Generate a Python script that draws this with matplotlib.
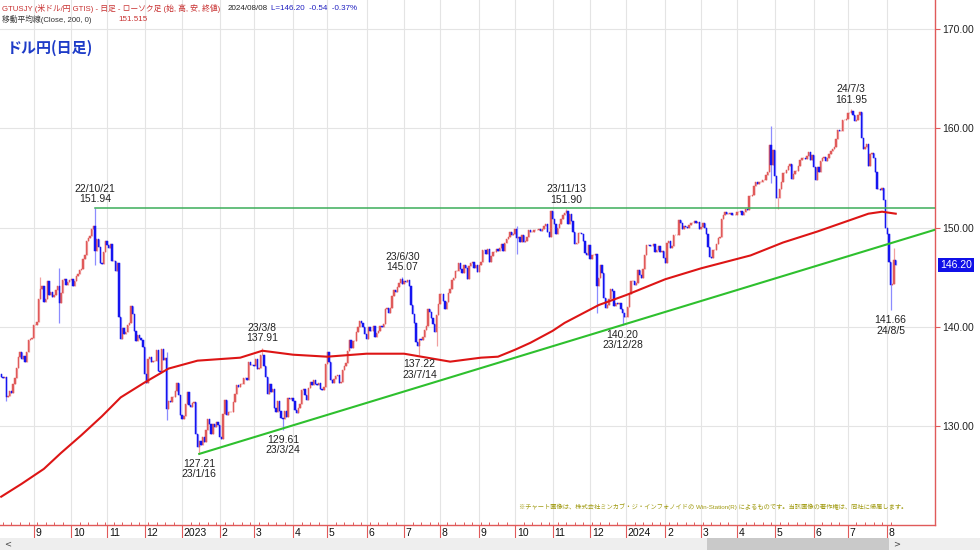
import numpy as np
import pandas as pd
import matplotlib
matplotlib.use("Agg")
import matplotlib.pyplot as plt
import matplotlib.transforms as mtransforms
from matplotlib.patches import Rectangle

# ------------------------------------------------------------------
# data (USD/JPY daily)
# ------------------------------------------------------------------
start_date = "2022-08-05"
end_date = "2024-08-08"
first_open = 135.3

closes = [
    # 2022-08
    135.0, 134.9, 135.0, 132.9, 133.0, 133.5, 133.3, 134.2, 134.9, 135.9, 137.0, 137.5, 136.8, 137.1, 136.5, 137.5, 138.7, 138.8, 138.9,
    # 2022-09
    140.2, 140.2, 140.5, 142.8, 143.8, 144.1, 142.5, 142.8, 144.6, 143.2, 143.5, 143.0, 143.2, 143.7, 144.1, 142.4, 143.4, 144.7, 144.8, 144.2, 144.5, 144.7,
    # 2022-10
    144.8, 144.1, 144.6, 145.1, 145.3, 145.7, 145.8, 146.8, 147.2, 148.7, 149.0, 149.2, 149.9, 150.2, 147.6, 148.9, 148.0, 146.4, 146.3, 147.5, 148.7,
    # 2022-11
    148.2, 147.9, 148.3, 146.6, 146.6, 145.6, 146.4, 141.0, 138.8, 139.9, 139.3, 139.5, 140.2, 140.4, 142.1, 141.3, 139.6, 138.6, 139.2, 138.9, 138.7, 138.0,
    # 2022-12
    135.3, 134.3, 136.8, 137.0, 136.5, 136.6, 136.6, 137.7, 135.6, 135.5, 137.8, 136.7, 136.9, 131.7, 132.5, 132.4, 132.9, 132.9, 133.5, 134.4, 133.1, 131.1,
    # 2023-01
    130.7, 131.0, 132.2, 133.4, 132.1, 131.9, 132.3, 132.4, 129.2, 127.9, 128.5, 128.1, 128.9, 128.4, 129.6, 130.7, 130.2, 129.2, 130.2, 129.9, 130.4, 130.1,
    # 2023-02
    128.9, 128.7, 131.2, 132.6, 131.1, 131.4, 131.4, 131.4, 132.4, 133.2, 134.1, 133.9, 134.2, 134.2, 134.9, 134.9, 134.7, 136.5, 136.2, 136.2,
    # 2023-03
    136.1, 136.8, 135.8, 135.9, 137.2, 137.2, 136.1, 135.0, 133.2, 134.2, 133.4, 133.7, 131.8, 131.4, 132.5, 131.5, 130.8, 130.7, 131.5, 130.9, 132.8, 132.7, 132.8,
    # 2023-04
    132.5, 131.6, 131.3, 131.8, 132.2, 133.6, 133.7, 133.1, 132.6, 133.8, 134.5, 134.1, 134.7, 134.2, 134.1, 134.3, 133.7, 133.6, 133.9, 136.3,
    # 2023-05
    137.5, 136.5, 134.7, 134.3, 134.8, 135.1, 135.2, 134.4, 134.5, 135.7, 136.1, 136.4, 137.6, 138.7, 137.9, 138.6, 138.6, 139.5, 140.0, 140.6, 140.4, 140.0, 139.3,
    # 2023-06
    138.8, 140.0, 139.6, 139.6, 140.1, 139.0, 139.4, 139.6, 140.1, 140.0, 140.3, 141.8, 141.9, 141.4, 141.9, 143.1, 143.7, 143.5, 144.0, 144.4, 144.8, 144.3,
    # 2023-07
    144.6, 144.5, 144.7, 144.1, 142.2, 141.3, 140.4, 138.5, 138.1, 138.8, 138.7, 139.0, 139.7, 140.1, 141.8, 141.5, 140.9, 140.3, 139.5, 141.2, 142.3,
    # 2023-08
    143.3, 143.3, 142.6, 141.8, 142.5, 143.4, 143.8, 144.7, 144.9, 145.6, 145.6, 146.4, 145.8, 145.4, 146.2, 145.9, 144.8, 146.1, 146.4, 146.5, 145.9, 146.2, 145.5,
    # 2023-09
    146.2, 146.5, 147.7, 147.7, 147.3, 147.8, 146.5, 147.1, 147.5, 147.5, 147.8, 147.6, 147.9, 148.3, 147.6, 148.4, 148.9, 149.1, 149.6, 149.3, 149.4,
    # 2023-10
    149.9, 149.0, 149.1, 148.5, 149.3, 148.5, 148.7, 149.1, 149.8, 149.6, 149.6, 149.8, 149.8, 149.8, 149.9, 149.7, 149.9, 150.2, 150.4, 149.6, 149.1, 151.7,
    # 2023-11
    150.9, 150.4, 149.4, 150.0, 150.4, 150.9, 151.3, 151.5, 151.7, 150.4, 151.4, 150.7, 149.6, 148.3, 148.4, 149.5, 149.5, 149.4, 148.7, 147.4, 147.2, 148.2,
    # 2023-12
    146.8, 147.2, 147.2, 147.3, 144.1, 144.9, 146.2, 145.4, 142.9, 141.9, 142.2, 142.8, 143.8, 143.6, 142.1, 142.4, 142.3, 142.4, 141.8, 141.4, 141.0,
    # 2024-01
    141.0, 142.0, 143.3, 144.6, 144.6, 144.2, 144.4, 145.7, 145.2, 144.9, 145.8, 147.2, 148.2, 148.2, 148.1, 148.1, 148.3, 147.5, 147.7, 148.1, 147.5, 147.6, 146.9,
    # 2024-02
    146.4, 148.4, 148.7, 147.9, 148.1, 149.3, 149.3, 149.3, 150.8, 150.5, 149.9, 150.2, 150.1, 150.0, 150.3, 150.5, 150.5, 150.7, 150.5, 150.6, 149.9,
    # 2024-03
    150.1, 150.5, 150.0, 149.4, 148.0, 147.0, 146.9, 147.7, 147.7, 148.3, 149.0, 149.1, 150.9, 151.3, 151.6, 151.4, 151.4, 151.5, 151.3, 151.3, 151.3,
    # 2024-04
    151.6, 151.6, 151.7, 151.3, 151.6, 151.9, 151.8, 153.2, 153.2, 153.3, 154.2, 154.6, 154.4, 154.6, 154.6, 154.8, 154.8, 155.3, 155.6, 158.3, 156.3, 157.8,
    # 2024-05
    155.2, 153.0, 153.0, 153.9, 154.6, 155.5, 155.5, 155.8, 156.2, 156.4, 154.9, 155.4, 155.7, 155.7, 156.2, 156.8, 157.0, 157.0, 156.9, 157.2, 157.6, 156.8, 157.3,
    # 2024-06
    156.1, 154.8, 156.1, 155.6, 156.7, 157.0, 157.1, 156.7, 157.0, 157.4, 157.7, 157.9, 158.1, 158.9, 159.8, 159.7, 159.7, 160.8, 160.8, 160.9,
    # 2024-07
    161.5, 161.5, 161.7, 161.3, 160.7, 160.8, 161.3, 161.6, 159.0, 157.9, 158.1, 158.4, 156.2, 157.4, 157.5, 157.0, 155.6, 153.9, 153.9, 153.8, 154.0, 152.8, 150.0,
    # 2024-08
    149.4, 146.5, 144.2, 144.3, 146.7, 146.2,
]

# notable wick extremes
hi_dates = ["2022-09-07", "2022-09-22", "2022-10-21", "2022-12-20", "2023-03-08", "2023-06-30",
            "2023-07-28", "2023-10-03", "2023-11-13", "2024-04-29", "2024-07-03", "2024-08-05", "2024-08-07"]
hi_values = [145.0, 145.9, 151.94, 137.5, 137.91, 145.07, 141.2, 150.16, 151.90, 160.2, 161.95, 146.5, 147.9]
lo_dates = ["2022-08-10", "2022-09-22", "2022-10-21", "2022-12-20", "2023-01-16", "2023-03-24",
            "2023-07-14", "2023-07-28", "2023-10-03", "2023-12-07", "2023-12-28", "2024-04-29",
            "2024-05-03", "2024-08-05"]
lo_values = [132.5, 140.36, 146.2, 130.6, 127.21, 129.61, 137.22, 138.05, 147.3, 141.4, 140.20, 154.5, 151.86, 141.66]

# 200-day moving average
ma_dates = ["2022-08-05", "2022-08-23", "2022-09-09", "2022-09-23", "2022-10-11", "2022-10-27", "2022-11-11",
            "2022-12-01", "2022-12-21", "2023-01-13", "2023-02-17", "2023-03-08", "2023-04-03", "2023-05-01",
            "2023-06-01", "2023-07-03", "2023-08-09", "2023-09-04", "2023-09-18", "2023-10-02", "2023-10-13",
            "2023-11-01", "2023-11-10", "2023-11-24", "2023-12-08", "2024-01-01", "2024-02-01", "2024-03-01",
            "2024-04-11", "2024-05-08", "2024-06-05", "2024-07-03", "2024-07-17", "2024-07-29", "2024-08-08"]
ma_values = [122.9, 124.2, 125.7, 127.3, 129.1, 131.0, 132.9,
             134.4, 135.8, 136.6, 136.9, 137.6, 137.2, 137.0,
             137.3, 137.3, 136.5, 136.9, 137.0, 137.7, 138.4,
             139.6, 140.4, 141.3, 142.2, 143.2, 144.8, 145.9,
             147.2, 148.5, 149.6, 150.8, 151.4, 151.6, 151.4]

# trend lines
support_dates = ["2023-01-16", "2023-12-28"]
support_prices = [127.21, 140.20]
resist_date = "2022-10-21"
resist_price = 151.94

# labelled highs / lows
label_dates = ["2022-10-21", "2023-03-08", "2023-01-16", "2023-03-24", "2023-06-30", "2023-07-14",
               "2023-11-13", "2023-12-28", "2024-07-03", "2024-08-05"]
label_texts = ["22/10/21", "23/3/8", "23/1/16", "23/3/24", "23/6/30", "23/7/14",
               "23/11/13", "23/12/28", "24/7/3", "24/8/5"]
label_prices = [151.94, 137.91, 127.21, 129.61, 145.07, 137.22, 151.90, 140.20, 161.95, 141.66]
label_kind = ["high", "high", "low", "low", "high", "low", "high", "low", "high", "low"]

yticks = [130, 140, 150, 160, 170]
last_price = 146.20
ma_last = 151.515

# ------------------------------------------------------------------
dates = pd.bdate_range(start_date, end_date)
closes = np.array(closes)
n = len(closes)
x = np.arange(n)
opens = np.concatenate([[first_open], closes[:-1]])
highs = np.maximum(opens, closes)
lows = np.minimum(opens, closes)
for d, v in zip(hi_dates, hi_values):
    i = dates.get_loc(pd.Timestamp(d))
    highs[i] = max(highs[i], v)
for d, v in zip(lo_dates, lo_values):
    i = dates.get_loc(pd.Timestamp(d))
    lows[i] = min(lows[i], v)

def idx(d):
    return dates.searchsorted(pd.Timestamp(d))

NUM = ["Liberation Sans", "DejaVu Sans"]
JP = ["Liberation Sans", "Noto Sans CJK JP", "DejaVu Sans"]
RED_AX = "#e05a5a"

W, H = 980, 550
fig = plt.figure(figsize=(9.8, 5.5), dpi=100)
ax = fig.add_axes([0, 25 / H, 935 / W, 525 / H])
ax.set_xlim(-0.7, 547)
ax.set_ylim(120.05, 172.92)

# grid
month_starts = [i for i in range(1, n) if dates[i].month != dates[i - 1].month]
ax.set_xticks(month_starts)
ax.set_xticklabels([])
ax.set_yticks(yticks)
ax.set_yticklabels([f"{v:.2f}" for v in yticks])
ax.grid(True, color="#e4e4e4", lw=0.8)
ax.set_axisbelow(True)

# candles
up = closes >= opens
ax.vlines(x[up], lows[up], highs[up], color="#f0a0a0", lw=0.9, zorder=2)
ax.vlines(x[~up], lows[~up], highs[~up], color="#8c8cff", lw=0.9, zorder=2)
ax.bar(x[up], closes[up] - opens[up], bottom=opens[up], width=0.8,
       color="#e05a5a", edgecolor="#e05a5a", lw=0.35, zorder=3)
ax.bar(x[~up], opens[~up] - closes[~up], bottom=closes[~up], width=0.8,
       color="#1515f0", edgecolor="#1515f0", lw=0.35, zorder=3)

# moving average
ax.plot([idx(d) for d in ma_dates], ma_values, color="#dd1515", lw=1.5, zorder=4)

# trend lines
x0, x1 = idx(support_dates[0]), idx(support_dates[1])
slope = (support_prices[1] - support_prices[0]) / (x1 - x0)
xe = 547
ax.plot([x0, xe], [support_prices[0], support_prices[0] + slope * (xe - x0)], color="#2ec02e", lw=1.5, zorder=5)
ax.plot([idx(resist_date), xe], [resist_price, resist_price], color="#3cae5a", lw=1.1, zorder=5)

# labels
for d, t, p, k in zip(label_dates, label_texts, label_prices, label_kind):
    if k == "high":
        s, off, va = f"{t}\n{p:.2f}", 3.0, "bottom"
    else:
        s, off, va = f"{p:.2f}\n{t}", -3.5, "top"
    ax.annotate(s, xy=(idx(d), p), xytext=(0, off), textcoords="offset points",
                ha="center", va=va, fontsize=7.5, family=NUM, color="#222222",
                linespacing=1.05, zorder=6)

# axes styling
for s in ["top", "left"]:
    ax.spines[s].set_visible(False)
for s in ["right", "bottom"]:
    ax.spines[s].set_color(RED_AX)
    ax.spines[s].set_linewidth(1.0)
ax.yaxis.tick_right()
ax.tick_params(axis="y", colors=RED_AX, labelcolor="#222222", length=3.5, width=0.8, pad=2, labelsize=7.5)
for lbl in ax.get_yticklabels():
    lbl.set_family(NUM)
ax.tick_params(axis="x", which="major", colors=RED_AX, direction="out", length=9, width=0.8)
mondays = [i for i in range(n) if dates[i].weekday() == 0]
ax.set_xticks(mondays, minor=True)
ax.tick_params(axis="x", which="minor", colors=RED_AX, direction="in", length=2.5, width=0.7)

trans = mtransforms.blended_transform_factory(ax.transData, ax.transAxes)
for i in month_starts:
    lab = str(dates[i].year) if dates[i].month == 1 else str(dates[i].month)
    ax.text(i + 1.0, -8 / 525, lab, transform=trans, ha="left", va="center",
            fontsize=7.5, family=NUM, color="#111111", clip_on=False)

# current price box
ax.text(1.0 + 5 / 935, last_price, f"{last_price:.2f}",
        transform=mtransforms.blended_transform_factory(ax.transAxes, ax.transData),
        ha="left", va="center", fontsize=7.5, family=NUM, color="white",
        bbox=dict(boxstyle="square,pad=0.2", fc="#1010e8", ec="none"), clip_on=False)

# header texts
def ftext(px, py, s, **kw):
    fig.text(px / W, 1 - py / H, s, va="center", **kw)

ftext(2, 8, "GTUSJY (米ドル/円 GTIS) - 日足 - ローソク足 (始, 高, 安, 終値)", fontsize=5.6, family=JP, color="#c83030")
ftext(228, 8, "2024/08/08", fontsize=5.8, family=NUM, color="#222222")
ftext(271, 8, f"L={last_price:.2f}  -0.54  -0.37%", fontsize=5.8, family=NUM, color="#2020c0")
ftext(2, 19, "移動平均線(Close, 200, 0)", fontsize=5.6, family=JP, color="#333333")
ftext(118, 19.5, f"{ma_last:.3f}", fontsize=5.8, family=NUM, color="#c83030")
ftext(7, 48, "ドル円(日足)", fontsize=10.8, family=["Noto Sans CJK JP"], weight="bold", color="#1e3cc8")
ftext(519, 507, "※チャート画像は、株式会社ミンカブ・ジ・インフォノイドの Win-Station(R) によるものです。当該画像の著作権は、同社に帰属します。",
      fontsize=4.5, family=JP, color="#a09a10")

# scroll bar strip
fig.patches.append(Rectangle((0, 0), 1, 12 / H, transform=fig.transFigure, fc="#eeeeee", ec="none"))
fig.patches.append(Rectangle((707 / W, 0), 182 / W, 12 / H, transform=fig.transFigure, fc="#c9c9c9", ec="none"))
ftext(4, 544, "<", fontsize=6, color="#444444")
ftext(893, 544, ">", fontsize=6, color="#444444")

fig.savefig("out.png", dpi=100)
